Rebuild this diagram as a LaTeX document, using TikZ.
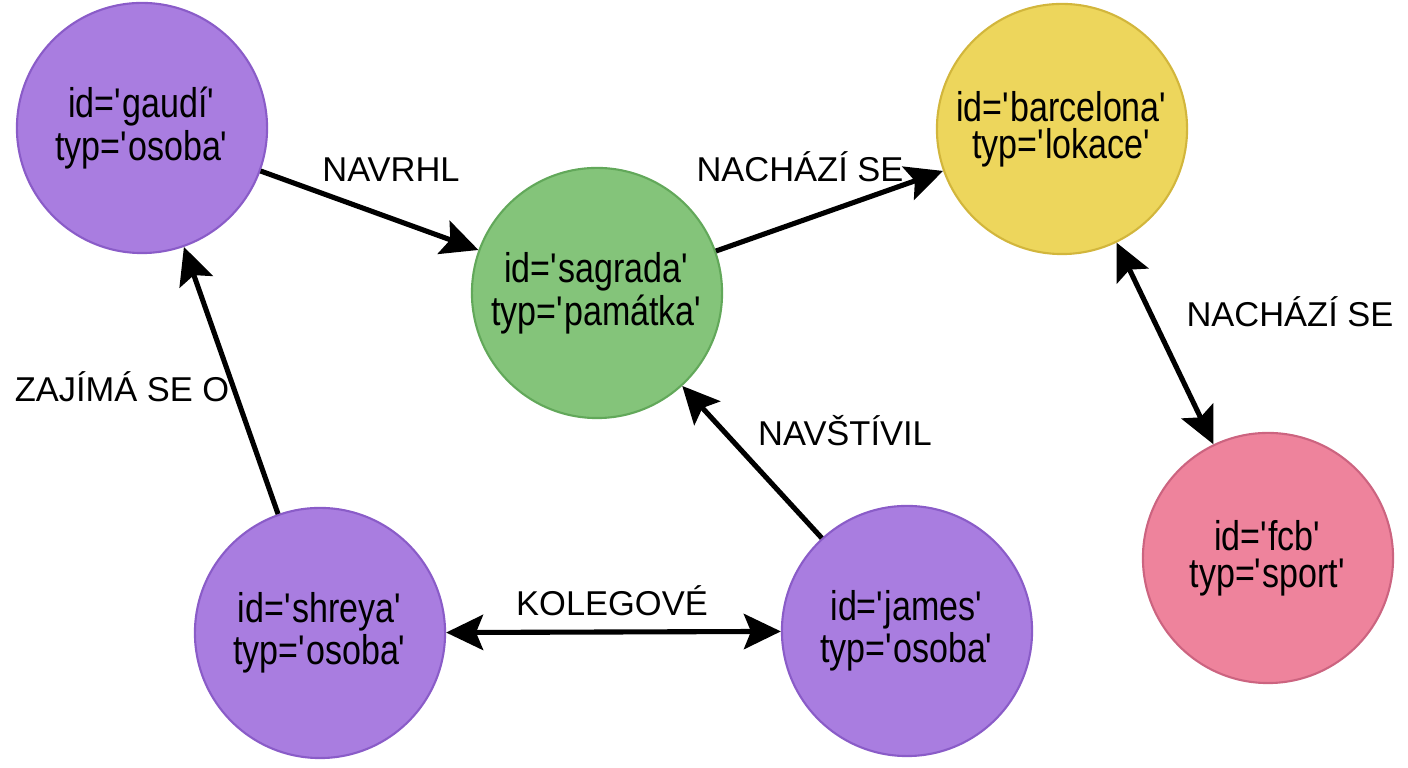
\documentclass[tikz,border=0pt]{standalone}
\usepackage{fontspec}
\setmainfont{Liberation Sans}
\newfontfamily\circfont[FakeStretch=0.82]{Liberation Sans}
\usetikzlibrary{arrows.meta}

\definecolor{osobafill}{HTML}{A97DE0}
\definecolor{osobadraw}{HTML}{8A5CC8}
\definecolor{pamatkafill}{HTML}{84C47A}
\definecolor{pamatkadraw}{HTML}{62A85A}
\definecolor{lokacefill}{HTML}{EDD65C}
\definecolor{lokacedraw}{HTML}{D2B63C}
\definecolor{sportfill}{HTML}{EE839C}
\definecolor{sportdraw}{HTML}{CC6480}

\newcommand{\qt}{\textquotesingle}

\tikzset{
  entity/.style={circle, minimum size=2.5cm, inner sep=0pt, line width=0.6pt,
    align=center, font=\circfont\fontsize{11.8}{10.6}\selectfont},
  rel/.style={line width=1.45pt, -{Stealth[length=10.5pt,width=10pt,inset=2pt]}},
  relboth/.style={line width=1.45pt,
    {Stealth[length=10.5pt,width=10pt,inset=2pt]}-{Stealth[length=10.5pt,width=10pt,inset=2pt]}},
  tag/.style={anchor=base, inner sep=0pt, font=\fontsize{9.8}{11}\selectfont}
}

\begin{document}
\begin{tikzpicture}[x=0.01cm, y=-0.01cm]
  \useasboundingbox (0,0) rectangle (1408,768);
  % entities
  \foreach \nm/\px/\py/\kind/\idtxt/\typtxt in {
      gaudi/142/128/osoba/gaudí/osoba,
      sagrada/597/293/pamatka/sagrada/památka,
      barcelona/1062/129/lokace/barcelona/lokace,
      fcb/1268/558/sport/fcb/sport,
      shreya/320/633/osoba/shreya/osoba,
      james/907/631/osoba/james/osoba} {
    \node[entity, fill=\kind fill, draw=\kind draw] (\nm) at (\px,\py)
      {id=\qt\idtxt\qt\\typ=\qt\typtxt\qt};
  }
  % relations
  \draw[rel] (gaudi) -- (sagrada);
  \draw[rel] (sagrada) -- (barcelona);
  \draw[relboth] (barcelona) -- (fcb);
  \draw[rel] (shreya) -- (gaudi);
  \draw[rel] (james) -- (sagrada);
  \draw[relboth] (shreya) -- (james);
  % relation labels
  \node[tag] (navrhl) at (391,182) {NAVRHL};
  \node[tag] (nachazi1) at (800,182) {NACHÁZÍ SE};
  \node[tag] (nachazi2) at (1290,327) {NACHÁZÍ SE};
  \node[tag] (zajima) at (122,402) {ZAJÍMÁ SE O};
  \node[tag] (navstivil) at (845,446) {NAVŠTÍVIL};
  \node[tag] (kolegove) at (612,616) {KOLEGOVÉ};
\end{tikzpicture}
\end{document}
